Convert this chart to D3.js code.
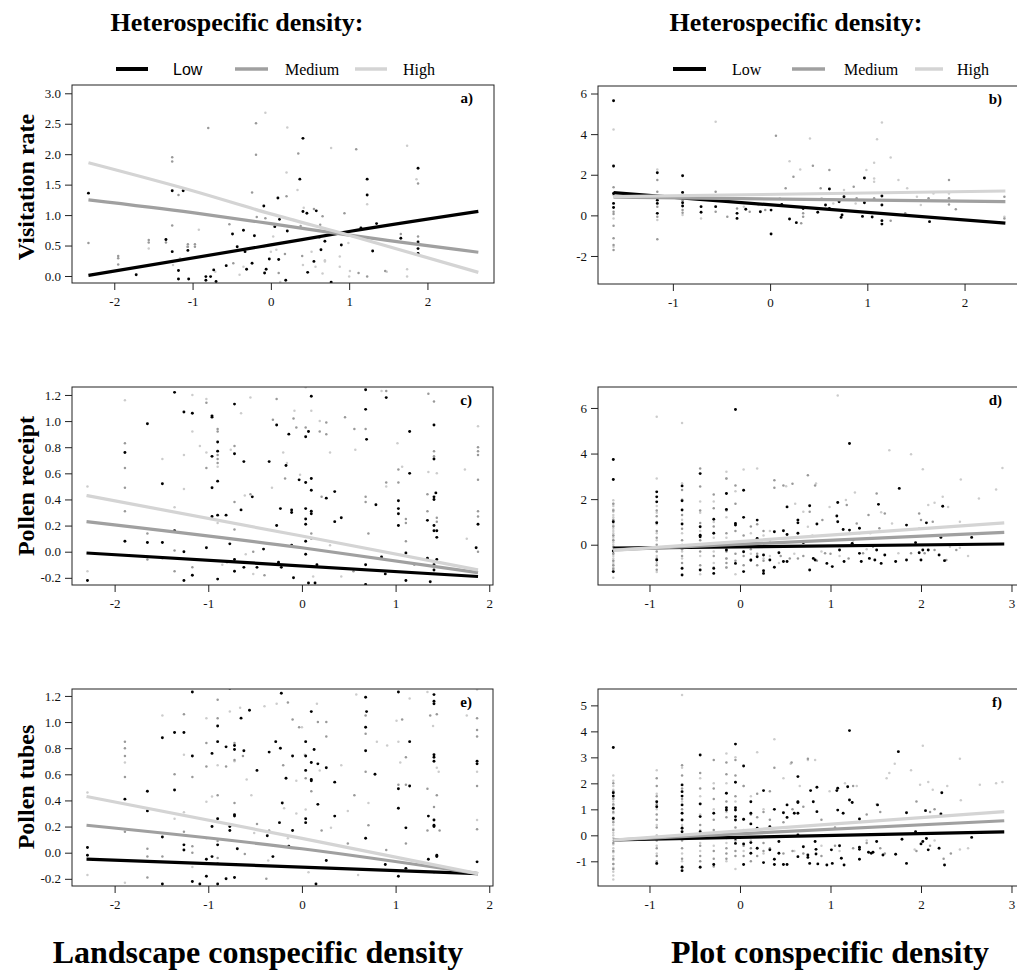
<!DOCTYPE html>
<html><head><meta charset="utf-8">
<script src="https://cdn.jsdelivr.net/npm/d3@7"></script>
<style>body{margin:0;background:#fff}svg{display:block}</style>
</head><body>
<svg id="chart" width="1017" height="974"></svg>
<script>
// ---------------- DATA ----------------
const groups = ["Low", "Medium", "High"];
const legendTitle = "Heterospecific density:";
const rowTitles = ["Visitation rate", "Pollen receipt", "Pollen tubes"];
const colTitles = ["Landscape conspecific density", "Plot conspecific density"];
const panelLabels = ["a)", "b)", "c)", "d)", "e)", "f)"];

// tick values and labels
const xTicksLand = [-2, -1, 0, 1, 2];
const xTickLabelsLand = ["-2", "-1", "0", "1", "2"];
const xTicksPlotB = [-1, 0, 1, 2];
const xTickLabelsPlotB = ["-1", "0", "1", "2"];
const xTicksPlot = [-1, 0, 1, 2, 3];
const xTickLabelsPlot = ["-1", "0", "1", "2", "3"];
const yTicksA = [0, 0.5, 1, 1.5, 2, 2.5, 3];
const yTickLabelsA = ["0.0", "0.5", "1.0", "1.5", "2.0", "2.5", "3.0"];
const yTicksB = [-2, 0, 2, 4, 6];
const yTickLabelsB = ["-2", "0", "2", "4", "6"];
const yTicksCE = [-0.2, 0, 0.2, 0.4, 0.6, 0.8, 1.0, 1.2];
const yTickLabelsCE = ["-0.2", "0.0", "0.2", "0.4", "0.6", "0.8", "1.0", "1.2"];
const yTicksD = [0, 2, 4, 6];
const yTickLabelsD = ["0", "2", "4", "6"];
const yTicksF = [-1, 0, 1, 2, 3, 4, 5];
const yTickLabelsF = ["-1", "0", "1", "2", "3", "4", "5"];

// Panel a: visitation rate vs landscape conspecific density
const aLow = [[-2.33,1.36],[-1.72,0.02],[-1.34,0.6],[-1.26,1.40],[-1.26,0.40],[-1.18,0.09],[-1.18,-0.05],[-1.12,1.40],[-1.06,0.42],[-1.05,-0.05],[-0.83,-0.01],[-0.83,-0.07],[-0.77,-0.01],[-0.73,0.10],[-0.70,-0.09],[-0.57,0.17],[-0.49,0.69],[-0.43,0.48],[-0.35,0.75],[-0.33,0.40],[-0.31,0.11],[-0.24,0.21],[-0.21,0.66],[-0.09,1.15],[-0.08,0.05],[-0.06,0.11],[-0.02,0.28],[0.05,0.81],[0.09,1.28],[0.10,0.27],[0.11,0.93],[0.19,-0.07],[0.21,0.74],[0.37,1.59],[0.41,2.26],[0.41,1.06],[0.46,1.03],[0.47,0.06],[0.55,0.24],[0.58,1.07],[0.64,0.43],[0.69,0.57],[0.77,-0.10],[0.90,0.51],[1.15,0.79],[1.23,1.59],[1.23,1.33],[1.30,0.41],[1.35,0.86],[1.66,0.62],[1.88,1.77],[1.88,0.56],[1.88,0.45],[1.88,0.37]];
const aMed = [[-2.33,0.54],[-1.95,0.33],[-1.95,0.29],[-1.95,0.19],[-1.56,0.59],[-1.56,0.55],[-1.34,0.59],[-1.34,0.55],[-1.26,1.95],[-1.26,1.88],[-1.26,0.83],[-1.18,1.33],[-1.06,0.52],[-1.06,0.48],[-0.97,0.52],[-0.97,0.48],[-0.80,2.43],[-0.53,0.85],[-0.48,0.21],[-0.24,1.37],[-0.19,2.51],[-0.19,1.99],[-0.18,0.97],[-0.07,0.95],[0.10,0.05],[0.18,0.36],[0.20,1.31],[0.35,2.01],[0.40,0.33],[0.38,0.82],[0.62,0.63],[0.63,0.84],[0.94,1.03],[1.09,2.08],[1.12,0.05],[1.23,-0.01],[1.46,0.08],[1.66,0.69],[1.88,0.65],[1.88,1.52],[0.55,1.10],[0.66,0.98]];
const aHigh = [[-0.07,2.68],[0.21,2.44],[0.20,1.70],[0.34,1.41],[0.42,1.12],[0.77,2.10],[1.86,1.59],[1.74,2.14],[1.23,1.18],[1.74,0.11],[1.74,-0.01],[1.48,0.07],[1.01,0.08],[0.99,0.54],[0.88,0.32],[0.88,0.15],[0.69,0.26],[0.69,0.24],[0.66,0.04],[0.52,0.40],[0.29,0.92],[0.07,0.43],[0.03,0.65],[-0.09,0.48],[-0.35,0.15],[-0.40,0.02],[-0.71,0.07],[-0.92,0.76],[-1.07,0.48],[-1.16,0.29],[-1.56,0.45],[-1.25,0.18],[1.00,-0.01],[0.41,0.18],[0.57,0.15],[1.40,0.81],[0.0,0.40],[0.12,-0.10]];
const aLowLine = [[-2.33,0.01],[0,0.51],[1,0.73],[2.65,1.06]];
const aMedLine = [[-2.33,1.25],[-1,1.04],[0,0.86],[1,0.67],[2.65,0.39]];
const aHighLine = [[-2.33,1.86],[-1,1.40],[0,1.02],[1,0.67],[2.65,0.06]];

// Panel b: visitation rate vs plot conspecific density
const bLow = [[-1.61,5.64],[-1.61,2.43],[-1.61,1.08],[-1.61,0.59],[-1.61,0.39],[-1.16,2.10],[-1.16,0.75],[-1.16,0.59],[-1.16,0.10],[-0.90,1.95],[-0.90,1.13],[-0.90,0.62],[-0.90,0.46],[-0.71,0.43],[-0.71,0.15],[-0.56,0.43],[-0.34,0.10],[-0.34,-0.15],[-0.25,0.30],[-0.10,0.18],[0.01,0.26],[0.01,-0.92],[0.12,0.54],[0.20,-0.18],[0.27,-0.36],[0.34,0.34],[0.49,0.15],[0.57,0.51],[0.61,1.30],[0.61,0.34],[0.71,0.67],[0.73,-0.10],[0.74,0.02],[0.76,0.92],[0.95,-0.05],[0.97,1.84],[1.05,-0.08],[1.15,0.95],[1.15,0.51],[1.15,-0.26],[1.15,-0.43],[1.64,-0.31],[0.97,0.62]];
const bMed = [[-1.61,1.38],[-1.61,0.18],[-1.61,0.07],[-1.61,-0.51],[-1.61,-1.13],[-1.61,-1.46],[-1.61,-1.70],[-1.16,1.74],[-1.16,1.16],[-1.16,0.92],[-1.16,0.43],[-1.16,-0.07],[-1.16,-1.18],[-0.90,0.75],[-0.90,0.26],[-0.90,0.13],[-0.56,1.16],[-0.56,0.18],[-0.44,-0.07],[-0.34,0.34],[-0.21,0.18],[-0.05,0.26],[0.06,3.92],[0.16,1.33],[0.24,1.90],[0.32,-0.39],[0.34,-0.07],[0.34,0.10],[0.44,2.44],[0.52,1.33],[0.61,2.23],[0.86,1.41],[0.89,0.84],[1.07,0.84],[1.24,-0.26],[1.51,0.75],[1.63,0.84],[1.84,1.74],[1.84,0.84],[1.84,0.54],[1.91,0.30],[2.41,0.92],[2.41,-0.15],[1.41,0.75],[1.39,0.10]];
const bHigh = [[-1.61,4.23],[-1.61,2.39],[-1.61,1.0],[-1.61,-0.15],[-1.61,-1.55],[-1.16,2.26],[-1.16,-0.23],[-0.90,0.02],[-0.71,-0.15],[-0.56,4.61],[-0.27,0.43],[-0.12,0.51],[0.10,0.84],[0.20,2.67],[0.31,2.26],[0.41,3.79],[0.53,0.84],[0.65,0.59],[0.88,0.59],[0.99,2.23],[1.07,2.59],[1.07,1.82],[1.07,1.66],[1.10,3.75],[1.15,4.57],[1.24,2.85],[1.32,1.74],[1.41,1.33],[1.51,0.92],[1.55,0.51],[1.68,1.08],[1.84,1.08],[2.41,-0.07],[0.76,1.25]];
const bLowLine = [[-1.61,1.12],[2.42,-0.38]];
const bMedLine = [[-1.61,0.90],[2.42,0.68]];
const bHighLine = [[-1.61,0.92],[2.42,1.20]];

// Panel c: pollen receipt vs landscape conspecific density
const cLow = [[-2.29,-0.22],[-1.89,0.76],[-1.89,0.08],[-1.65,0.98],[-1.65,0.07],[-1.49,0.52],[-1.49,0.07],[-1.36,1.22],[-1.36,0.16],[-1.26,1.07],[-1.26,0.0],[-1.26,-0.22],[-1.17,1.06],[-1.17,-0.18],[-1.02,0.03],[-0.96,1.04],[-0.96,1.03],[-0.96,0.73],[-0.96,0.49],[-0.96,0.27],[-0.90,0.84],[-0.90,0.77],[-0.90,0.54],[-0.90,0.28],[-0.90,-0.21],[-0.81,0.28],[-0.77,0.06],[-0.72,1.13],[-0.72,0.75],[-0.72,-0.06],[-0.72,-0.15],[-0.65,0.32],[-0.62,0.69],[-0.62,-0.12],[-0.53,0.42],[-0.48,-0.12],[-0.41,0.02],[-0.35,0.69],[-0.27,0.97],[-0.27,0.20],[-0.25,-0.08],[-0.23,0.33],[-0.22,-0.12],[-0.17,0.66],[-0.14,0.90],[-0.11,0.32],[-0.11,0.30],[-0.11,0.05],[-0.09,-0.20],[-0.03,0.55],[0.04,0.88],[0.04,0.53],[0.04,0.33],[0.04,0.25],[0.04,0.21],[0.04,0.08],[0.04,-0.02],[0.07,0.92],[0.07,-0.24],[0.10,1.19],[0.10,0.56],[0.10,0.47],[0.10,0.31],[0.10,0.29],[0.14,-0.24],[0.16,-0.10],[0.26,0.41],[0.35,0.46],[0.35,0.23],[0.42,0.26],[0.68,1.24],[0.68,1.09],[0.69,0.86],[0.68,-0.10],[0.68,-0.25],[0.79,0.36],[0.85,-0.04],[0.89,-0.17],[0.90,1.18],[1.03,0.39],[1.03,0.33],[1.03,0.29],[1.03,0.20],[1.11,-0.01],[1.11,-0.22],[1.15,0.92],[1.15,0.60],[1.34,0.24],[1.34,-0.05],[1.37,-0.23],[1.41,0.97],[1.41,0.71],[1.41,0.42],[1.41,0.40],[1.41,0.20],[1.41,0.16],[1.41,-0.10],[1.41,-0.14],[1.43,0.45],[1.44,0.16],[1.44,0.11],[1.44,-0.06],[1.88,0.21],[1.86,0.03]];
const cMed = [[-1.89,0.83],[-1.89,0.64],[-1.89,0.49],[-1.89,0.31],[-1.65,0.14],[-1.65,-0.06],[-1.49,-0.05],[-1.36,0.01],[-1.36,-0.15],[-1.17,-0.12],[-1.02,0.64],[-1.02,1.14],[-0.90,0.74],[-0.90,0.71],[-0.90,0.68],[-0.90,0.94],[-0.90,0.92],[-0.72,0.81],[-0.72,0.17],[-0.72,0.38],[-0.55,0.44],[-0.52,0.0],[-0.27,1.17],[-0.31,1.01],[-0.18,0.56],[-0.09,1.02],[-0.06,0.95],[0.04,0.95],[0.10,0.14],[0.10,0.10],[0.19,0.92],[0.21,0.42],[0.26,0.99],[0.26,0.90],[0.46,1.03],[0.56,0.94],[0.68,0.94],[0.68,0.42],[0.68,0.38],[0.71,0.14],[0.90,0.53],[1.03,0.63],[1.03,0.53],[1.11,0.25],[1.11,0.22],[1.11,0.08],[1.34,0.44],[1.34,0.31],[1.41,0.77],[1.41,0.73],[1.44,0.26],[1.44,0.23],[1.41,1.15],[1.88,0.80],[1.88,0.77],[1.88,0.74],[1.88,0.55],[1.88,0.31],[1.88,0.27],[1.88,0.0],[1.35,1.21],[0.90,1.23],[-0.40,-0.18],[-0.80,-0.08],[0.55,-0.15],[1.20,-0.10]];
const cHigh = [[-2.29,0.50],[-2.29,-0.15],[-1.89,1.16],[-1.49,0.71],[-1.36,0.34],[-1.26,0.74],[-1.26,0.48],[-1.17,1.20],[-1.17,0.92],[-1.09,0.81],[-1.02,1.17],[-1.02,0.76],[-0.90,0.65],[-0.90,0.22],[-0.76,0.78],[-0.65,1.06],[-0.55,1.18],[-0.61,0.43],[-0.52,-0.17],[-0.32,0.49],[-0.20,0.76],[-0.16,0.68],[-0.08,1.08],[-0.02,0.59],[0.04,1.26],[0.10,1.08],[0.19,1.00],[0.30,0.76],[0.57,0.78],[0.85,1.23],[1.02,0.83],[1.07,0.65],[1.35,0.61],[1.44,0.60],[1.76,0.10],[1.74,0.63],[1.88,0.96],[0.90,0.50],[0.42,-0.19],[0.12,-0.19],[-0.60,-0.02],[-0.85,-0.10],[0.30,0.05]];
const cLowLine = [[-2.30,-0.01],[1.88,-0.19]];
const cMedLine = [[-2.30,0.23],[0,0.03],[1.88,-0.16]];
const cHighLine = [[-2.30,0.43],[0,0.12],[1.88,-0.14]];

// Panel d: pollen receipt vs plot conspecific density
const dLow = [[-1.40,3.74],[-1.40,2.86],[-1.40,1.01],[-1.40,-0.28],[-1.40,-1.18],[-0.92,2.32],[-0.92,2.10],[-0.92,1.88],[-0.92,0.96],[-0.92,-0.67],[-0.64,2.58],[-0.64,1.93],[-0.64,1.52],[-0.64,0.91],[-0.64,-1.04],[-0.64,-1.33],[-0.44,3.12],[-0.44,0.79],[-0.44,0.42],[-0.44,0.35],[-0.44,-1.11],[-0.29,1.12],[-0.29,0.50],[-0.29,-1.04],[-0.29,-1.26],[-0.15,2.25],[-0.15,1.55],[-0.15,-0.23],[-0.05,5.93],[-0.05,0.93],[-0.05,0.86],[-0.05,-0.82],[0.04,2.39],[0.04,1.20],[0.04,-0.31],[0.04,-1.18],[0.12,-0.67],[0.19,1.08],[0.19,0.28],[0.19,-0.53],[0.26,-0.45],[0.26,-1.14],[0.26,-1.26],[0.33,-0.67],[0.38,0.57],[0.38,-0.99],[0.43,-0.35],[0.48,0.61],[0.48,-0.74],[0.52,1.66],[0.52,0.45],[0.52,-0.74],[0.64,1.08],[0.64,0.96],[0.64,0.50],[0.70,0.09],[0.77,1.71],[0.77,-1.11],[0.81,-0.60],[0.83,-0.67],[0.85,0.91],[0.96,-0.82],[1.02,-0.96],[1.07,1.26],[1.08,1.85],[1.08,1.01],[1.10,-0.23],[1.14,0.67],[1.15,-0.74],[1.21,4.44],[1.21,0.64],[1.24,0.06],[1.32,0.72],[1.32,-0.38],[1.34,-0.74],[1.43,-0.60],[1.49,-0.67],[1.51,-0.23],[1.53,1.77],[1.56,-0.82],[1.60,-0.45],[1.72,-0.74],[1.76,2.47],[1.84,0.86],[1.84,-0.67],[1.94,0.09],[1.98,-0.35],[2.00,-0.67],[2.02,-0.23],[2.06,0.96],[2.08,-0.23],[2.20,-0.45],[2.24,1.69],[2.22,0.32],[2.26,-0.70],[2.56,0.32]];
const dMedCols = [[-1.40,[1.8,1.5,1.1,0.8,0.4,0.2,-0.1,-0.4,-0.7,-0.9,-1.05]],[-0.92,[1.5,1.25,1.0,0.6,0.3,0.0,-0.3,-0.6,-0.9,-1.1]],[-0.64,[2.4,1.3,0.7,0.2,-0.2,-0.5,-0.8]],[-0.44,[3.34,2.55,1.5,0.95,0.2,-0.3,-0.9]],[-0.29,[2.2,1.6,0.8,0.0,-0.5,-1.0]],[-0.15,[2.9,1.5,0.5,-0.3,-0.6,-0.8,-1.0]],[-0.05,[2.6,1.8,0.6,-0.4,-0.7]],[0.04,[0.4,-0.5,-0.9]],[0.12,[0.8,-0.2,-0.7]],[0.19,[0.9,-0.4,-0.9]],[0.26,[0.6,-0.7]]];
const dMedPts = [[0.38,2.83],[0.38,2.50],[0.48,2.6],[0.58,2.68],[0.64,1.1],[0.64,-0.6],[0.75,3.05],[0.77,1.45],[0.83,2.6],[0.91,1.08],[0.94,-0.38],[1.18,1.74],[1.29,0.93],[1.42,1.3],[1.36,-0.38],[1.47,-0.09],[1.54,0.72],[1.51,2.25],[1.60,1.37],[1.89,-0.38],[1.98,1.37],[2.04,-0.38],[2.13,1.01],[2.15,-0.23],[2.28,-0.67],[2.39,-0.23],[2.0,1.08],[0.33,0.2],[0.45,-0.5],[0.55,-0.6],[0.70,-0.5],[0.85,-0.7],[1.0,-0.4],[1.2,-0.6],[1.25,0.2]];
const dHighCols = [[-1.40,[1.95,1.8,1.7,1.55,1.45,1.3,1.2,1.05,0.95,0.85,0.7,0.6,0.5,0.4,0.3,0.2,0.1,0.0,-0.1,-0.2,-0.3,-0.4,-0.5,-0.6,-0.7,-0.8,-0.9,-1.0,-1.1,-1.2,-1.45]],[-0.92,[5.61,2.9,1.7,1.4,0.9,0.5,0.2,-0.1,-0.5,-0.8,-1.2]],[-0.64,[5.34,2.7,2.0,1.1,0.5,0.0,-0.3,-0.6,-1.0]],[-0.44,[1.9,1.4,0.6,0.0,-0.5,-1.3]],[-0.29,[1.9,1.0,0.3,-0.3,-0.8]],[-0.15,[3.2,2.9,1.2,0.3,-0.2,-0.6,-1.0]],[-0.05,[2.35,0.1,-1.3]],[0.04,[3.3]],[0.12,[0.5,-0.4]],[0.19,[3.34]],[0.26,[0.4,-0.6]],[0.33,[0.6,-0.5]],[0.43,[-0.8]]];
const dHighPts = [[0.51,2.57],[0.61,1.8],[0.70,1.45],[0.75,0.79],[0.84,2.69],[0.99,1.66],[1.08,6.55],[1.17,1.96],[1.27,2.29],[1.32,0.5],[1.44,0.5],[1.56,1.42],[1.65,4.15],[1.68,0.93],[1.89,3.97],[1.98,0.72],[2.02,3.31],[2.08,1.74],[2.15,1.84],[2.24,2.10],[2.30,1.66],[2.43,1.01],[2.43,-0.13],[2.44,2.86],[2.64,2.03],[2.52,-0.5],[2.83,2.42],[2.90,3.37],[2.32,-0.09],[1.75,-0.38],[0.6,-0.4],[0.9,-0.3],[1.1,-0.5],[1.4,-0.2],[0.8,0.4]];
const dLowLine = [[-1.40,-0.15],[2.92,0.03]];
const dMedLine = [[-1.40,-0.23],[2.92,0.54]];
const dHighLine = [[-1.40,-0.25],[2.92,0.96]];

// Panel e: pollen tubes vs landscape conspecific density
const eLow = [[-2.29,0.04],[-2.29,-0.02],[-1.89,0.41],[-1.65,0.47],[-1.65,0.32],[-1.49,0.88],[-1.49,0.12],[-1.49,-0.24],[-1.36,0.92],[-1.36,0.48],[-1.26,0.92],[-1.26,0.06],[-1.26,0.02],[-1.17,1.23],[-1.17,0.74],[-1.17,-0.22],[-1.09,-0.24],[-1.02,-0.18],[-1.02,-0.05],[-0.96,0.76],[-0.96,0.20],[-0.96,-0.03],[-0.90,0.97],[-0.90,0.85],[-0.90,0.26],[-0.90,0.06],[-0.90,-0.24],[-0.81,0.81],[-0.81,-0.20],[-0.77,1.26],[-0.77,0.20],[-0.77,0.17],[-0.72,0.82],[-0.72,0.79],[-0.72,0.29],[-0.72,0.28],[-0.72,-0.19],[-0.69,0.03],[-0.65,1.03],[-0.62,0.78],[-0.56,1.09],[-0.48,0.63],[-0.37,0.13],[-0.35,0.77],[-0.31,-0.03],[-0.28,0.85],[-0.24,0.23],[-0.23,0.80],[-0.22,1.22],[-0.21,0.38],[-0.17,0.57],[-0.14,0.05],[-0.10,0.17],[-0.10,0.74],[0.04,0.85],[0.04,0.74],[0.04,0.63],[0.04,0.26],[0.04,0.23],[0.10,1.08],[0.10,0.69],[0.10,0.56],[0.10,0.55],[0.13,0.79],[0.15,-0.24],[0.17,0.68],[0.17,0.37],[0.26,0.65],[0.26,-0.06],[0.35,0.54],[0.35,0.28],[0.68,1.19],[0.68,0.96],[0.68,0.78],[0.68,0.11],[0.69,1.08],[0.78,0.60],[0.89,-0.09],[1.03,1.23],[1.03,0.49],[1.03,0.34],[1.03,-0.18],[1.11,0.19],[1.11,-0.12],[1.15,0.85],[1.15,0.51],[1.35,0.28],[1.35,-0.05],[1.41,1.21],[1.41,1.16],[1.41,1.14],[1.41,0.75],[1.41,0.73],[1.41,0.70],[1.41,0.25],[1.41,0.21],[1.41,0.20],[1.44,-0.02],[1.44,-0.03],[1.87,0.70],[1.87,0.68],[1.87,-0.07]];
const eMed = [[-1.89,0.85],[-1.89,0.80],[-1.89,0.74],[-1.89,0.58],[-1.89,0.16],[-1.65,0.03],[-1.65,-0.03],[-1.65,-0.19],[-1.49,-0.03],[-1.36,0.60],[-1.26,1.06],[-1.26,0.16],[-1.17,0.58],[-1.17,0.05],[-1.17,0.0],[-1.02,0.84],[-1.02,0.66],[-0.90,1.17],[-0.90,1.03],[-0.90,0.44],[-0.90,0.09],[-0.90,-0.04],[-0.90,-0.08],[-0.81,0.66],[-0.72,0.84],[-0.72,0.71],[-0.72,0.38],[-0.63,0.74],[-0.61,-0.01],[-0.48,0.22],[-0.38,-0.20],[-0.35,0.17],[-0.20,0.67],[-0.15,1.15],[-0.10,1.02],[-0.03,0.96],[0.04,0.57],[0.10,0.47],[0.17,1.00],[0.21,0.17],[0.26,1.00],[0.26,0.89],[0.49,0.07],[0.56,0.44],[0.68,1.05],[0.68,0.91],[0.68,0.62],[0.71,0.21],[0.90,0.02],[1.03,0.52],[1.07,1.02],[1.11,0.73],[1.11,0.52],[1.11,0.07],[1.34,0.49],[1.34,0.17],[1.37,1.05],[1.41,0.35],[1.41,0.25],[1.41,-0.15],[1.44,0.44],[1.44,1.06],[1.87,1.03],[1.87,0.94],[1.87,0.89],[1.87,0.51],[1.87,0.18],[1.47,0.17]];
const eHigh = [[-2.29,0.46],[-2.29,-0.17],[-1.89,0.69],[-1.89,-0.23],[-1.49,1.05],[-1.36,0.26],[-1.26,0.75],[-1.26,0.31],[-1.17,-0.11],[-1.02,1.03],[-1.02,0.39],[-1.02,0.11],[-0.96,0.43],[-0.90,0.67],[-0.77,1.08],[-0.72,0.70],[-0.66,1.11],[-0.59,0.56],[-0.54,0.44],[-0.51,0.15],[-0.40,1.12],[-0.36,-0.06],[-0.27,1.14],[-0.19,0.34],[-0.15,0.11],[-0.06,0.55],[-0.06,0.30],[0.0,0.96],[0.03,0.75],[0.04,0.33],[0.07,-0.15],[0.16,1.14],[0.19,0.63],[0.31,0.19],[0.42,0.67],[0.49,0.32],[0.58,1.21],[0.60,-0.17],[0.71,0.38],[0.80,0.85],[0.91,0.82],[1.01,1.01],[1.03,0.85],[1.05,0.69],[1.15,1.18],[1.34,1.23],[1.40,0.97],[1.44,0.65],[1.46,0.62],[1.76,1.05],[1.87,1.25],[1.87,0.62],[1.87,0.25]];
const eLowLine = [[-2.30,-0.05],[1.88,-0.16]];
const eMedLine = [[-2.30,0.21],[0,0.03],[1.88,-0.16]];
const eHighLine = [[-2.30,0.43],[0,0.11],[1.88,-0.16]];

// Panel f: pollen tubes vs plot conspecific density
const fLow = [[-1.40,3.38],[-1.40,1.64],[-1.40,1.51],[-1.40,1.04],[-1.40,0.65],[-0.92,1.29],[-0.92,1.10],[-0.92,-1.08],[-0.64,1.94],[-0.64,1.68],[-0.64,1.51],[-0.64,1.17],[-0.64,0.85],[-0.64,0.59],[-0.64,0.27],[-0.64,0.14],[-0.64,-1.23],[-0.64,-1.36],[-0.44,3.09],[-0.44,1.21],[-0.44,0.72],[-0.44,0.14],[-0.44,-1.23],[-0.29,0.85],[-0.29,-1.12],[-0.15,1.62],[-0.15,1.06],[-0.15,0.97],[-0.05,3.51],[-0.05,2.04],[-0.05,1.06],[-0.05,0.97],[-0.05,0.72],[-0.05,0.59],[-0.05,-0.12],[-0.05,-0.31],[0.04,2.67],[0.04,0.62],[0.04,-0.33],[0.04,-1.12],[0.12,1.29],[0.12,0.85],[0.12,0.44],[0.12,-0.28],[0.12,-0.69],[0.19,0.27],[0.19,-0.50],[0.26,1.72],[0.26,-1.05],[0.33,0.33],[0.33,-0.56],[0.38,1.00],[0.38,-0.92],[0.38,-1.12],[0.43,-0.24],[0.43,-0.69],[0.48,0.87],[0.48,-1.12],[0.52,1.17],[0.52,0.69],[0.52,-1.12],[0.60,0.85],[0.64,0.85],[0.64,1.29],[0.64,1.26],[0.64,0.01],[0.64,-0.82],[0.64,2.26],[0.70,-0.44],[0.75,-0.76],[0.75,-0.85],[0.77,-1.08],[0.78,1.72],[0.81,1.29],[0.83,-0.24],[0.84,-0.72],[0.84,-0.54],[0.85,1.85],[0.85,0.91],[0.86,-1.10],[0.96,-1.14],[1.01,-0.56],[1.02,-1.08],[1.07,1.72],[1.08,1.81],[1.08,0.97],[1.10,-0.40],[1.12,-0.88],[1.14,0.85],[1.15,-1.14],[1.19,1.87],[1.21,4.03],[1.21,1.36],[1.24,1.26],[1.32,-0.46],[1.32,-0.92],[1.32,-0.54],[1.32,0.63],[1.42,-0.65],[1.45,-0.69],[1.47,-0.65],[1.51,-0.24],[1.52,1.17],[1.58,-0.76],[1.75,3.22],[1.72,-0.73],[1.79,-0.15],[1.84,0.87],[1.84,-1.08],[1.94,0.14],[2.00,-0.33],[2.02,-0.24],[2.06,-0.12],[2.05,0.95],[2.08,-0.56],[2.20,-0.50],[2.23,1.64],[2.22,0.82],[2.26,-1.14],[2.56,-0.08]];
const fMedCols = [[-1.40,[2.0,1.7,1.4,1.2,0.9,0.5,0.2,-0.3,-0.6,-0.9,-1.1,-1.3]],[-0.92,[2.2,1.9,1.5,1.2,0.8,0.6,0.3,-0.2,-0.5,-0.8,-1.0]],[-0.64,[2.7,2.3,1.8,1.4,1.0,0.6,0.3,-0.2,-0.5,-0.9,-1.2]],[-0.44,[2.4,1.8,1.2,0.4,0.0,-0.4,-0.8,-1.0]],[-0.29,[2.9,1.8,1.4,0.6,0.2,-0.6,-0.9,-1.2]],[-0.15,[2.8,2.35,1.3,0.7,-0.1,-0.5,-0.7,-0.9]],[-0.05,[2.9,2.3,1.5,0.3,-0.2,-0.6,-0.8]],[0.04,[1.9,0.6,-0.4,-0.8]],[0.12,[0.8,-0.5,-1.0]],[0.19,[1.6,0.7,-0.5,-0.8]],[0.26,[0.9,-0.3,-0.6]],[0.33,[1.7,0.6,-0.5]]];
const fMedPts = [[0.38,2.6],[0.57,2.8],[0.75,2.95],[0.48,0.5],[0.48,-0.7],[0.58,1.0],[0.58,-0.6],[0.70,1.1],[0.70,-0.7],[0.90,0.6],[0.90,-0.8],[1.05,0.3],[1.05,-0.4],[1.25,1.9],[1.25,-0.5],[1.40,0.8],[1.40,-0.3],[1.55,0.9],[1.55,-0.5],[1.60,-0.7],[1.95,1.3],[1.95,-0.6],[2.10,0.9],[2.10,-0.4],[2.25,-0.9],[2.33,-0.7],[2.15,1.0]];
const fHighCols = [[-1.40,[2.3,2.1,1.9,1.75,1.6,1.45,1.3,1.15,1.0,0.85,0.7,0.55,0.4,0.25,0.1,0.0,-0.1,-0.2,-0.35,-0.5,-0.65,-0.8,-0.95,-1.1,-1.25,-1.4,-1.55,-1.7]],[-0.92,[2.5,1.6,1.0,0.4,0.0,-0.4,-0.7,-1.1]],[-0.64,[5.40,2.6,1.3,0.4,-0.1,-0.7,-1.0]],[-0.44,[2.2,1.5,0.8,0.2,-0.3,-0.6,-1.2]],[-0.29,[2.0,1.0,0.1,-0.4,-1.1]],[-0.15,[3.15,2.0,0.9,0.0,-0.3,-1.0]],[-0.05,[3.0,1.3,-1.3]],[0.04,[1.9,0.2,-0.6]],[0.12,[1.5,-0.2]],[0.19,[3.2]],[0.26,[1.0,-0.7]]];
const fHighPts = [[0.38,3.7],[0.48,2.2],[0.56,2.75],[0.75,2.9],[0.83,2.9],[0.66,1.9],[0.99,1.7],[1.16,2.0],[1.29,1.9],[1.51,1.2],[1.62,2.2],[1.65,2.4],[1.71,2.75],[1.89,2.5],[1.99,1.95],[2.02,3.45],[2.08,2.05],[2.13,1.75],[2.29,1.9],[2.43,2.95],[2.44,1.35],[2.65,1.95],[2.83,2.0],[2.90,2.05],[2.43,-0.55],[2.52,-0.5],[1.93,-0.55],[2.15,-0.2],[0.6,-0.6],[0.9,-0.4],[1.1,-0.6],[1.4,-0.2]];
const fLowLine = [[-1.40,-0.18],[2.92,0.13]];
const fMedLine = [[-1.40,-0.18],[2.92,0.56]];
const fHighLine = [[-1.40,-0.18],[2.92,0.91]];

// ---------------- DRAWING ----------------
function expandCols(cols, extra) {
  const out = [];
  cols.forEach(([x, ys]) => ys.forEach(y => out.push([x, y])));
  return out.concat(extra);
}

const svg = d3.select("#chart");
const serif = "'Liberation Serif','Times New Roman',Times,serif";
const sans = "'Liberation Sans',Arial,Helvetica,sans-serif";
const pointColor = { Low: "#000000", Medium: "#999999", High: "#cccccc" };
const lineColor = { Low: "#000000", Medium: "#a0a0a0", High: "#d4d4d4" };
const pointR = { Low: 1.45, Medium: 1.25, High: 1.25 };

const panels = [
  { label: panelLabels[0], box: [72, 85, 494, 283], xd: [-2.54, 2.85], yd: [-0.115, 3.136],
    xt: xTicksLand, xtl: xTickLabelsLand, yt: yTicksA, ytl: yTickLabelsA, tick: 7,
    pts: { Low: aLow, Medium: aMed, High: aHigh }, lines: { Low: aLowLine, Medium: aMedLine, High: aHighLine } },
  { label: panelLabels[1], box: [598, 86, 1019, 284], xd: [-1.77, 2.56], yd: [-3.38, 6.37],
    xt: xTicksPlotB, xtl: xTickLabelsPlotB, yt: yTicksB, ytl: yTickLabelsB, tick: 7,
    pts: { Low: bLow, Medium: bMed, High: bHigh }, lines: { Low: bLowLine, Medium: bMedLine, High: bHighLine } },
  { label: panelLabels[2], box: [72, 387, 493, 585], xd: [-2.455, 2.04], yd: [-0.255, 1.261],
    xt: xTicksLand, xtl: xTickLabelsLand, yt: yTicksCE, ytl: yTickLabelsCE, tick: 7,
    pts: { Low: cLow, Medium: cMed, High: cHigh }, lines: { Low: cLowLine, Medium: cMedLine, High: cHighLine } },
  { label: panelLabels[3], box: [598, 387, 1019, 585], xd: [-1.569, 3.083], yd: [-1.768, 6.92],
    xt: xTicksPlot, xtl: xTickLabelsPlot, yt: yTicksD, ytl: yTickLabelsD, tick: 7,
    pts: { Low: dLow, Medium: expandCols(dMedCols, dMedPts), High: expandCols(dHighCols, dHighPts) },
    lines: { Low: dLowLine, Medium: dMedLine, High: dHighLine } },
  { label: panelLabels[4], box: [72, 689, 493, 886], xd: [-2.455, 2.04], yd: [-0.255, 1.253],
    xt: xTicksLand, xtl: xTickLabelsLand, yt: yTicksCE, ytl: yTickLabelsCE, tick: 7,
    pts: { Low: eLow, Medium: eMed, High: eHigh }, lines: { Low: eLowLine, Medium: eMedLine, High: eHighLine } },
  { label: panelLabels[5], box: [598, 689, 1019, 886], xd: [-1.569, 3.083], yd: [-1.95, 5.63],
    xt: xTicksPlot, xtl: xTickLabelsPlot, yt: yTicksF, ytl: yTickLabelsF, tick: 7,
    pts: { Low: fLow, Medium: expandCols(fMedCols, fMedPts), High: expandCols(fHighCols, fHighPts) },
    lines: { Low: fLowLine, Medium: fMedLine, High: fHighLine } }
];

const defs = svg.append("defs");

panels.forEach((p, i) => {
  const [x0, y0, x1, y1] = p.box;
  const x = d3.scaleLinear().domain(p.xd).range([x0, x1]);
  const y = d3.scaleLinear().domain(p.yd).range([y1, y0]);
  const clipId = "clip" + i;
  defs.append("clipPath").attr("id", clipId)
    .append("rect").attr("x", x0).attr("y", y0).attr("width", x1 - x0).attr("height", y1 - y0);

  const g = svg.append("g");
  const plot = g.append("g").attr("clip-path", `url(#${clipId})`);

  // points: light first, black on top
  ["High", "Medium", "Low"].forEach(k => {
    plot.append("g").selectAll("circle").data(p.pts[k]).join("circle")
      .attr("cx", d => x(d[0])).attr("cy", d => y(d[1]))
      .attr("r", pointR[k]).attr("fill", pointColor[k]);
  });

  // fitted lines
  const line = d3.line().x(d => x(d[0])).y(d => y(d[1])).curve(d3.curveMonotoneX);
  ["Low", "Medium", "High"].forEach(k => {
    plot.append("path").datum(p.lines[k]).attr("d", line)
      .attr("fill", "none").attr("stroke", lineColor[k]).attr("stroke-width", 3.2)
      .attr("stroke-linecap", "butt");
  });

  // box
  g.append("rect").attr("x", x0).attr("y", y0).attr("width", x1 - x0).attr("height", y1 - y0)
    .attr("fill", "none").attr("stroke", "#222").attr("stroke-width", 1);

  // axes
  const xAxis = d3.axisBottom(x).tickValues(p.xt).tickFormat((d, j) => p.xtl[j])
    .tickSizeInner(p.tick).tickSizeOuter(0).tickPadding(7);
  const gx = g.append("g").attr("transform", `translate(0,${y1})`).call(xAxis);
  const yAxis = d3.axisLeft(y).tickValues(p.yt).tickFormat((d, j) => p.ytl[j])
    .tickSizeInner(p.tick).tickSizeOuter(0).tickPadding(4);
  const gy = g.append("g").attr("transform", `translate(${x0},0)`).call(yAxis);
  [gx, gy].forEach(ax => {
    ax.select(".domain").remove();
    ax.selectAll("line").attr("stroke", "#222");
    ax.selectAll("text").attr("font-family", serif).attr("font-size", 13).attr("fill", "#111");
  });

  // panel label
  g.append("text").attr("x", Math.min(x1, 1019) - (i % 2 ? 17 : 21)).attr("y", y0 + 18)
    .attr("text-anchor", "end").attr("font-family", serif).attr("font-weight", "bold")
    .attr("font-size", 15).text(p.label);
});

// row titles (rotated)
const rowCenters = [187, 486, 787];
rowTitles.forEach((t, i) => {
  svg.append("text").attr("transform", `translate(34,${rowCenters[i]}) rotate(-90)`)
    .attr("text-anchor", "middle").attr("font-family", serif).attr("font-weight", "bold")
    .attr("font-size", 24).text(t);
});

// column titles at the bottom
const colCenters = [258, 830];
colTitles.forEach((t, i) => {
  svg.append("text").attr("x", colCenters[i]).attr("y", 963).attr("text-anchor", "middle")
    .attr("font-family", serif).attr("font-weight", "bold").attr("font-size", 32).text(t);
});

// legend titles and legends
const legendDefs = [
  { cx: 237, lines: [[116, 148], [235, 268], [355, 387]], texts: [173, 285, 403], lowFont: sans },
  { cx: 796, lines: [[673, 706], [792, 825], [915, 943]], texts: [732, 844, 957], lowFont: serif }
];
legendDefs.forEach(L => {
  svg.append("text").attr("x", L.cx).attr("y", 31).attr("text-anchor", "middle")
    .attr("font-family", serif).attr("font-weight", "bold").attr("font-size", 26).text(legendTitle);
  groups.forEach((k, j) => {
    svg.append("line").attr("x1", L.lines[j][0]).attr("x2", L.lines[j][1])
      .attr("y1", 69).attr("y2", 69).attr("stroke", lineColor[k])
      .attr("stroke-width", k === "Low" ? 4 : 3.5);
    svg.append("text").attr("x", L.texts[j]).attr("y", 75)
      .attr("font-family", j === 0 ? L.lowFont : serif).attr("font-size", 16)
      .text(k);
  });
});
</script>
</body></html>
